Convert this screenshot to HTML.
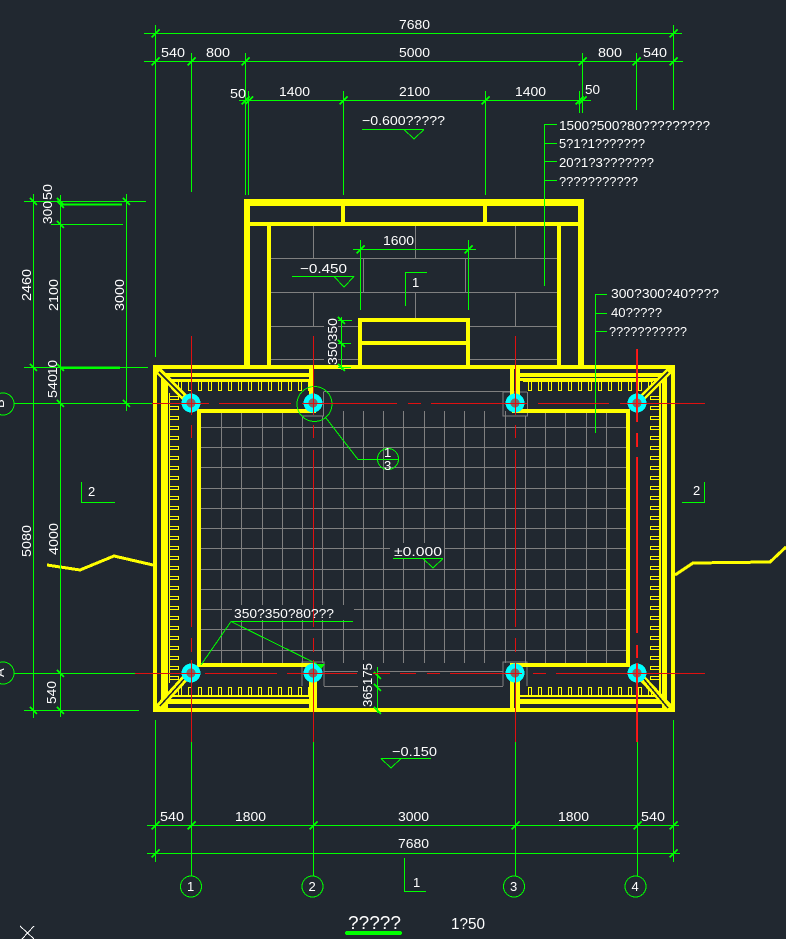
<!DOCTYPE html>
<html><head><meta charset="utf-8"><title>Plan</title>
<style>
html,body{margin:0;padding:0;background:#212830;width:786px;height:939px;overflow:hidden}
svg{display:block}
text{font-family:"Liberation Sans",sans-serif;fill:#fff;font-size:13px}
</style></head><body>
<svg width="786" height="939" viewBox="0 0 786 939" xmlns="http://www.w3.org/2000/svg" shape-rendering="crispEdges">
<defs>
<pattern id="rt" patternUnits="userSpaceOnUse" x="175" y="381" width="10" height="11"><path d="M0 .5H10M3.5 0V9.5H6.5V0" fill="none" stroke="#ff0" stroke-width="1"/></pattern>
<pattern id="rb" patternUnits="userSpaceOnUse" x="175" y="686" width="10" height="10"><path d="M0 9.5H10M3.5 10V1.5H6.5V10" fill="none" stroke="#ff0" stroke-width="1"/></pattern>
<pattern id="rl" patternUnits="userSpaceOnUse" x="169" y="393" width="11" height="10"><path d="M.5 0V10M0 3.5H9.5V6.5H0" fill="none" stroke="#ff0" stroke-width="1"/></pattern>
<pattern id="rr" patternUnits="userSpaceOnUse" x="649" y="393" width="11" height="10"><path d="M10.5 0V10M11 3.5H1.5V6.5H11" fill="none" stroke="#ff0" stroke-width="1"/></pattern>
</defs>
<rect width="786" height="939" fill="#212830"/>

<!-- grey paving -->
<path fill="none" stroke="#808080" stroke-width="1" d="
M221.5 413V663M241.5 413V663M262.5 413V663M282.5 413V663M302.5 416V663M322.5 416V663M343.5 411V663M363.5 411V663M383.5 411V663M403.5 411V663M424.5 411V663M444.5 411V663M464.5 411V663M484.5 411V663M505.5 411V663M525.5 416V663M545.5 411V663M565.5 411V663M586.5 411V663M606.5 411V663
M201 427.5H626M201 447.5H626M201 467.5H626M201 488.5H626M201 508.5H626M201 528.5H626M201 548.5H626M201 569.5H626M201 589.5H626M201 609.5H626M201 629.5H626M201 650.5H626
M323.5 392V416H302M323.5 391.5H510M527.5 392V416H503V392H527
M302 686V662H324V686M503 686V662H527V686M324 671.5H503M324 686.5H503
M271 258.5H557M271 292.5H557M271 326.5H324M338 326.5H358M470 326.5H557M271 359.5H324M338 359.5H358M470 359.5H557
M313.5 226V258M415.5 226V258M515.5 226V258M363.5 258V292M465.5 258V292M313.5 292V326M415.5 292V318M515.5 292V326"/>
<!-- wipeouts -->
<rect x="232" y="605" width="122" height="15" fill="#212830"/>
<rect x="390" y="543" width="54" height="15" fill="#212830"/>
<rect x="358" y="660" width="20" height="48" fill="#212830"/>

<!-- yellow walls -->
<g fill="#ff0">
<rect x="244" y="199" width="340" height="7"/><rect x="244" y="222" width="340" height="4"/>
<rect x="244" y="199" width="6" height="167"/><rect x="578" y="199" width="6" height="167"/>
<rect x="341" y="206" width="4" height="16"/><rect x="483" y="206" width="4" height="16"/>
<rect x="267" y="226" width="4" height="140"/><rect x="557" y="226" width="4" height="140"/>
<rect x="153" y="365" width="522" height="4"/><rect x="153" y="708" width="522" height="4"/>
<rect x="153" y="365" width="4" height="347"/><rect x="671" y="365" width="4" height="347"/>
<rect x="161" y="373" width="7" height="335"/><rect x="662" y="373" width="5" height="335"/><rect x="659" y="381" width="2" height="314"/>
<rect x="161" y="373" width="148" height="4"/><rect x="169" y="379" width="140" height="3"/>
<rect x="520" y="373" width="147" height="4"/><rect x="520" y="378" width="140" height="3"/>
<rect x="161" y="699" width="148" height="5"/><rect x="169" y="695" width="140" height="2"/>
<rect x="520" y="699" width="147" height="5"/><rect x="520" y="695" width="140" height="2"/>
<rect x="309" y="365" width="4" height="32"/><rect x="309" y="680" width="8" height="30"/>
<rect x="510" y="365" width="4" height="35"/><rect x="516" y="365" width="4" height="35"/>
<rect x="510" y="678" width="4" height="32"/><rect x="516" y="678" width="4" height="32"/>
<rect x="197" y="409" width="4" height="258"/><rect x="197" y="409" width="119" height="4"/><rect x="197" y="663" width="119" height="4"/>
<rect x="626" y="409" width="4" height="258"/><rect x="512" y="409" width="118" height="4"/><rect x="510" y="663" width="120" height="4"/>
<rect x="358" y="318" width="112" height="4"/><rect x="360" y="341" width="108" height="4"/><rect x="358" y="318" width="4" height="48"/><rect x="466" y="318" width="4" height="48"/>
</g>
<rect x="175" y="381" width="134" height="11" fill="url(#rt)"/>
<rect x="523" y="381" width="130" height="11" fill="url(#rt)"/>
<rect x="175" y="686" width="134" height="10" fill="url(#rb)"/>
<rect x="523" y="686" width="130" height="10" fill="url(#rb)"/>
<rect x="169" y="393" width="11" height="290" fill="url(#rl)"/>
<rect x="649" y="393" width="11" height="290" fill="url(#rr)"/>
<!-- corner diagonals -->
<path fill="none" stroke="#ff0" stroke-width="7" d="M157 369L187 400M671 369L640 400M157 709L187 676M671 709L640 676"/>
<path fill="none" stroke="#212830" stroke-width="1.5" d="M159 372L183 396M668 372L642 398M160 706L186 677M668 708L643 678"/>
<!-- ground -->
<path fill="none" stroke="#ff0" stroke-width="3" d="M47 565L80 570L114 556L153 565M675 575L693 563L770 562L786 547"/>

<!-- columns -->
<g fill="#0ff">
<circle cx="191" cy="403" r="9.5"/><circle cx="313" cy="403" r="9.5"/><circle cx="515" cy="403" r="9.5"/><circle cx="637" cy="403" r="9.5"/>
<circle cx="191" cy="673" r="9.5"/><circle cx="313" cy="673" r="9.5"/><circle cx="515" cy="673" r="9.5"/><circle cx="637" cy="673" r="9.5"/>
</g>
<g fill="#6e6e6e">
<circle cx="191" cy="403" r="4.5"/><circle cx="313" cy="403" r="4.5"/><circle cx="515" cy="403" r="4.5"/><circle cx="637" cy="403" r="4.5"/>
<circle cx="191" cy="673" r="4.5"/><circle cx="313" cy="673" r="4.5"/><circle cx="515" cy="673" r="4.5"/><circle cx="637" cy="673" r="4.5"/>
</g>

<!-- green -->
<g fill="none" stroke="#0f0" stroke-width="1">
<path d="M144 33.5H682M144 61.5H683M239 100.5H591
M155.5 25V357M191.5 53V192M245.5 53V195M248.5 91V195M343.5 91V195M485.5 91V195M579.5 91V113M582.5 53V113M636.5 53V110M673.5 25V110
M33.5 194V718M60.5 195V717M126.5 194V411
M24 201.5H146M60 204.5H122M51 224.5H123M24 367.5H148M60 368.5H120M14 403.5H152M14 673.5H135M24 710.5H139
M353 249.5H476M360.5 240V310M468.5 240V310
M341.5 317V370M338 320.5H352M338 343.5H351M338 367.5H351
M377.5 667V713
M155.5 720V862M191.5 742V876M313.5 742V876M515.5 742V876M637.5 742V876M673.5 720V862
M147 825.5H679M147 853.5H680
M544.5 124V286M544.5 124.5H557M544.5 143.5H557M544.5 161.5H557M544.5 180.5H557
M595.5 294V433M595.5 294.5H607M595.5 313.5H607M595.5 331.5H607
M362 129.5H424M404 129.5L414 139L424 129.5
M292 276.5H354M334 276.5L344 287L354 276.5
M393 558.5H443M423 558.5L433 568L443 558.5
M381 758.5H431M381 758.5L391 768L401 758.5
M81.5 482V502.5H115M704.5 482V502.5H682M405.5 306V272.5H427M404.5 858V891.5H426
M231 621.5H353M231 621.5L201 665M231 621.5L317 664
M326 418L358 459.5H378"/>
<circle cx="314.5" cy="404" r="17.5"/>
<circle cx="388" cy="459" r="10.5"/><path d="M378 459.5H398"/>
<circle cx="191" cy="886.5" r="10.5"/><circle cx="312.5" cy="886.5" r="10.5"/><circle cx="514" cy="886.5" r="10.5"/><circle cx="635.5" cy="886.5" r="10.5"/>
<circle cx="3" cy="404" r="11"/><circle cx="3" cy="673" r="11"/>
</g>
<path fill="#0f0" d="M316 664H325L321 669Z"/>
<rect x="345" y="931" width="57" height="4" rx="2" fill="#0f0"/>
<!-- ticks -->
<path fill="none" stroke="#0f0" stroke-width="1.5" d="
M151.5 37.5l8-8M669.5 37.5l8-8
M151.5 65.5l8-8M187.5 65.5l8-8M241.5 65.5l8-8M578.5 65.5l8-8M632.5 65.5l8-8M669.5 65.5l8-8
M241.5 104.5l8-8M245 104.5l8-8M339.5 104.5l8-8M481.5 104.5l8-8M575.5 104.5l8-8M578.5 104.5l8-8
M356.5 253.5l8-8M464.5 253.5l8-8
M151.5 829.5l8-8M187.5 829.5l8-8M309.5 829.5l8-8M511.5 829.5l8-8M633.5 829.5l8-8M669.5 829.5l8-8
M151.5 857.5l8-8M669.5 857.5l8-8
M30 198l7 7M30 364l7 7M30 707l7 7
M57 198l7 7M57 201l7 7M57 221l7 7M57 364l7 7M57 400l7 7M57 670l7 7M57 707l7 7
M123 198l7 7M123 400l7 7
M338 317l7 7M338 340l7 7M338 364l7 7
M374 672l7 7M374 684l7 7M374 707l7 7"/>
<path fill="none" stroke="#0f0" stroke-width="2" d="M60 204.5H122M60 367.5H120"/>

<!-- red axes -->
<path fill="none" stroke="#e01010" stroke-width="1" d="
M191.5 336V415M191.5 425V438M191.5 450V627M191.5 638V652M191.5 660V742
M313.5 336V415M313.5 425V438M313.5 450V627M313.5 638V652M313.5 660V742
M515.5 336V415M515.5 425V438M515.5 450V627M515.5 638V652M515.5 663V742
M636.5 349V422M636.5 433V447M636.5 457V633M636.5 645V658M636.5 663V742
M152 403.5H209M219 403.5H291M302 403.5H397M408 403.5H421M431 403.5H527M538 403.5H609M620 403.5H705
M135 673.5H200M205 673.5H277M287 673.5H357M373 673.5H390M400 673.5H416M427 673.5H440M450 673.5H522M533 673.5H546M556 673.5H705"/>
<path fill="none" stroke="#ff1a1a" stroke-width="1.5" d="M637 349V422M637 433V447M637 457V633M637 645V658M637 663V742"/>

<!-- X mark -->
<path fill="none" stroke="#fff" stroke-width="1" d="M20 926L34 939M34 926L22 939"/>

<!-- top dim text -->
<text x="399" y="29" textLength="31" lengthAdjust="spacingAndGlyphs">7680</text>
<text x="161" y="57" textLength="24" lengthAdjust="spacingAndGlyphs">540</text>
<text x="206" y="57" textLength="24" lengthAdjust="spacingAndGlyphs">800</text>
<text x="399" y="57" textLength="31" lengthAdjust="spacingAndGlyphs">5000</text>
<text x="598" y="57" textLength="24" lengthAdjust="spacingAndGlyphs">800</text>
<text x="643" y="57" textLength="24" lengthAdjust="spacingAndGlyphs">540</text>
<text x="230" y="98" textLength="16" lengthAdjust="spacingAndGlyphs">50</text>
<text x="279" y="96" textLength="31" lengthAdjust="spacingAndGlyphs">1400</text>
<text x="399" y="96" textLength="31" lengthAdjust="spacingAndGlyphs">2100</text>
<text x="515" y="96" textLength="31" lengthAdjust="spacingAndGlyphs">1400</text>
<text x="585" y="94" textLength="15" lengthAdjust="spacingAndGlyphs">50</text>
<text x="362" y="125" textLength="83" lengthAdjust="spacingAndGlyphs">−0.600?????</text>
<text x="559" y="130" textLength="151" lengthAdjust="spacingAndGlyphs">1500?500?80?????????</text>
<text x="559" y="148" textLength="86" lengthAdjust="spacingAndGlyphs">5?1?1???????</text>
<text x="559" y="167" textLength="95" lengthAdjust="spacingAndGlyphs">20?1?3???????</text>
<text x="559" y="186" textLength="79" lengthAdjust="spacingAndGlyphs">???????????</text>
<text x="611" y="298" textLength="108" lengthAdjust="spacingAndGlyphs">300?300?40????</text>
<text x="611" y="317" textLength="51" lengthAdjust="spacingAndGlyphs">40?????</text>
<text x="609" y="336" textLength="78" lengthAdjust="spacingAndGlyphs">???????????</text>
<text x="383" y="245" textLength="31" lengthAdjust="spacingAndGlyphs">1600</text>
<text x="300" y="273" textLength="47" lengthAdjust="spacingAndGlyphs">−0.450</text>
<text x="412" y="287">1</text>
<text x="88" y="496">2</text>
<text x="693" y="495">2</text>
<text x="394" y="556" textLength="48" lengthAdjust="spacingAndGlyphs">±0.000</text>
<text x="234" y="618" textLength="100" lengthAdjust="spacingAndGlyphs">350?350?80???</text>
<text x="392" y="756" textLength="45" lengthAdjust="spacingAndGlyphs">−0.150</text>
<text x="384" y="457" font-size="12">1</text>
<text x="384" y="470" font-size="12">3</text>

<!-- rotated dims -->
<text transform="translate(31 301) rotate(-90)" textLength="32" lengthAdjust="spacingAndGlyphs">2460</text>
<text transform="translate(58 311) rotate(-90)" textLength="32" lengthAdjust="spacingAndGlyphs">2100</text>
<text transform="translate(124 311) rotate(-90)" textLength="32" lengthAdjust="spacingAndGlyphs">3000</text>
<text transform="translate(52 224) rotate(-90)" textLength="23" lengthAdjust="spacingAndGlyphs">300</text>
<text transform="translate(52 200) rotate(-90)" textLength="16" lengthAdjust="spacingAndGlyphs">50</text>
<text transform="translate(57 398) rotate(-90)" textLength="24" lengthAdjust="spacingAndGlyphs">540</text>
<text transform="translate(57 375) rotate(-90)" textLength="15" lengthAdjust="spacingAndGlyphs">10</text>
<text transform="translate(31 557) rotate(-90)" textLength="32" lengthAdjust="spacingAndGlyphs">5080</text>
<text transform="translate(58 555) rotate(-90)" textLength="32" lengthAdjust="spacingAndGlyphs">4000</text>
<text transform="translate(56 704) rotate(-90)" textLength="23" lengthAdjust="spacingAndGlyphs">540</text>
<text transform="translate(337 365) rotate(-90)" textLength="47" lengthAdjust="spacingAndGlyphs">350350</text>
<text transform="translate(372 707) rotate(-90)" textLength="44" lengthAdjust="spacingAndGlyphs">365175</text>
<text transform="translate(4 408) rotate(-90)" font-size="12">B</text>
<text transform="translate(4 677) rotate(-90)" font-size="12">A</text>

<!-- bottom dims -->
<text x="160" y="821" textLength="24" lengthAdjust="spacingAndGlyphs">540</text>
<text x="235" y="821" textLength="31" lengthAdjust="spacingAndGlyphs">1800</text>
<text x="398" y="821" textLength="31" lengthAdjust="spacingAndGlyphs">3000</text>
<text x="558" y="821" textLength="31" lengthAdjust="spacingAndGlyphs">1800</text>
<text x="641" y="821" textLength="24" lengthAdjust="spacingAndGlyphs">540</text>
<text x="398" y="848" textLength="31" lengthAdjust="spacingAndGlyphs">7680</text>
<text x="187" y="891" font-size="12">1</text>
<text x="308.5" y="891" font-size="12">2</text>
<text x="510" y="891" font-size="12">3</text>
<text x="631.5" y="891" font-size="12">4</text>
<text x="413" y="887">1</text>
<text x="348" y="929" textLength="53" lengthAdjust="spacingAndGlyphs" style="font-size:18px">?????</text>
<text x="451" y="929" textLength="34" lengthAdjust="spacingAndGlyphs" style="font-size:16px">1?50</text>
</svg>
</body></html>
